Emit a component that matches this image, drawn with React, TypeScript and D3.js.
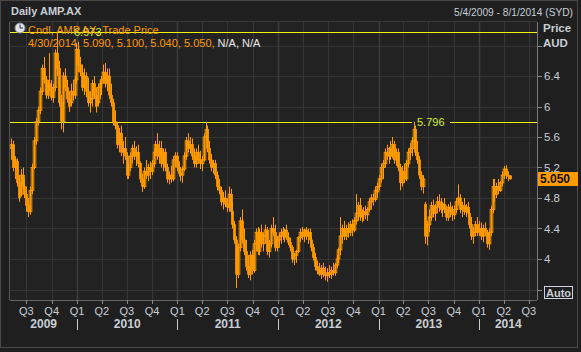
import React from 'react';
import * as d3 from 'd3';

// weekly candles, week of 4 May 2009 onwards
const opens = [
  5.45, 5.50, 5.20, 5.28, 5.00, 4.85, 5.10, 4.95, 4.85, 4.70,
  4.62, 4.90, 5.20, 5.55, 5.80, 5.95, 6.20, 6.50, 6.35, 6.15,
  6.30, 6.25, 6.12, 6.25, 6.70, 6.50, 6.05, 5.80, 6.40, 6.25,
  6.10, 6.05, 6.20, 6.15, 6.35, 6.75, 6.55, 6.45, 6.25, 6.40,
  6.20, 6.05, 6.10, 6.30, 6.15, 6.05, 6.25, 6.30, 6.35, 6.45,
  6.30, 6.40, 6.15, 6.05, 5.80, 5.75, 5.50, 5.65, 5.40, 5.45,
  5.35, 5.10, 5.20, 5.35, 5.45, 5.35, 5.40, 5.25, 5.05, 4.95,
  5.15, 5.10, 5.20, 5.15, 5.25, 5.40, 5.50, 5.35, 5.45, 5.25,
  5.40, 5.20, 5.05, 5.10, 5.05, 5.30, 5.35, 5.20, 5.12, 5.10,
  5.18, 5.35, 5.55, 5.45, 5.50, 5.35, 5.25, 5.40, 5.30, 5.25,
  5.30, 5.60, 5.70, 5.45, 5.30, 5.20, 5.25, 5.10, 4.95, 4.90,
  4.75, 4.80, 4.72, 4.68, 4.85, 4.62, 4.45, 4.25, 3.80, 4.15,
  4.50, 4.25, 4.10, 3.90, 3.80, 4.05, 3.85, 4.20, 4.35, 4.10,
  4.35, 4.20, 4.30, 4.38, 4.10, 4.20, 4.40, 4.35, 4.15, 4.25,
  4.30, 4.35, 4.30, 4.38, 4.28, 4.22, 4.15, 4.00, 4.05, 4.10,
  4.28, 4.35, 4.30, 4.38, 4.30, 4.35, 4.25, 4.15, 4.02, 3.90,
  3.85, 3.80, 3.88, 3.80, 3.78, 3.82, 3.80, 3.85, 3.82, 3.92,
  4.00, 4.12, 4.30, 4.40, 4.30, 4.40, 4.35, 4.45, 4.38, 4.50,
  4.60, 4.70, 4.55, 4.60, 4.62, 4.58, 4.65, 4.75, 4.80, 4.78,
  4.88, 4.95, 5.05, 5.20, 5.25, 5.40, 5.35, 5.45, 5.35, 5.50,
  5.30, 5.40, 5.20, 5.00, 5.15, 5.05, 5.25, 5.40, 5.45, 5.55,
  5.70, 5.40, 5.30, 5.10, 4.95, 4.72, 4.30, 4.45, 4.55, 4.70,
  4.60, 4.68, 4.75, 4.70, 4.65, 4.72, 4.65, 4.55, 4.68, 4.62,
  4.58, 4.65, 4.75, 4.80, 4.65, 4.70, 4.62, 4.68, 4.60, 4.45,
  4.30, 4.35, 4.45, 4.35, 4.40, 4.30, 4.40, 4.35, 4.20, 4.35,
  4.65, 4.95, 4.85, 4.95, 4.90, 5.00, 5.10, 5.18, 5.10, 5.09,
];
const highs = [
  5.58, 5.55, 5.35, 5.32, 5.10, 5.18, 5.20, 5.05, 4.95, 4.80,
  4.95, 5.25, 5.60, 5.85, 6.00, 6.25, 6.55, 6.65, 6.40, 6.35,
  6.70, 6.35, 6.30, 6.75, 6.97, 6.60, 6.15, 6.45, 6.50, 6.35,
  6.20, 6.30, 6.35, 6.40, 6.83, 6.85, 6.65, 6.55, 6.50, 6.45,
  6.38, 6.20, 6.35, 6.40, 6.25, 6.30, 6.35, 6.40, 6.55, 6.57,
  6.50, 6.50, 6.30, 6.10, 5.95, 5.80, 5.72, 5.75, 5.55, 5.60,
  5.40, 5.25, 5.40, 5.50, 5.55, 5.48, 5.50, 5.28, 5.12, 5.20,
  5.30, 5.25, 5.28, 5.30, 5.45, 5.55, 5.65, 5.55, 5.55, 5.45,
  5.45, 5.25, 5.15, 5.22, 5.35, 5.40, 5.40, 5.28, 5.20, 5.22,
  5.40, 5.60, 5.65, 5.60, 5.58, 5.45, 5.45, 5.50, 5.42, 5.35,
  5.65, 5.80, 5.75, 5.55, 5.38, 5.30, 5.30, 5.15, 5.05, 4.95,
  4.88, 4.90, 4.80, 4.95, 4.92, 4.75, 4.50, 4.30, 4.20, 4.55,
  4.65, 4.40, 4.25, 4.05, 4.10, 4.12, 4.25, 4.40, 4.42, 4.40,
  4.45, 4.35, 4.45, 4.42, 4.25, 4.45, 4.55, 4.45, 4.30, 4.35,
  4.40, 4.42, 4.40, 4.45, 4.35, 4.28, 4.18, 4.08, 4.12, 4.30,
  4.40, 4.42, 4.40, 4.42, 4.40, 4.40, 4.30, 4.20, 4.08, 3.98,
  3.95, 3.92, 3.95, 3.90, 3.88, 3.92, 3.90, 3.95, 3.95, 4.05,
  4.15, 4.55, 4.45, 4.50, 4.45, 4.48, 4.50, 4.52, 4.55, 4.85,
  4.75, 4.80, 4.65, 4.68, 4.70, 4.68, 4.80, 4.85, 4.86, 4.95,
  5.00, 5.10, 5.25, 5.30, 5.45, 5.50, 5.47, 5.55, 5.60, 5.55,
  5.45, 5.45, 5.25, 5.22, 5.25, 5.30, 5.45, 5.52, 5.60, 5.80,
  5.75, 5.55, 5.35, 5.15, 5.10, 4.75, 4.50, 4.65, 4.75, 4.78,
  4.72, 4.82, 4.85, 4.80, 4.75, 4.80, 4.70, 4.72, 4.75, 4.70,
  4.70, 4.80, 4.98, 4.85, 4.75, 4.80, 4.72, 4.75, 4.65, 4.55,
  4.42, 4.50, 4.55, 4.50, 4.48, 4.45, 4.48, 4.38, 4.40, 4.70,
  5.05, 5.05, 5.00, 5.05, 5.02, 5.15, 5.22, 5.23, 5.15, 5.10,
];
const lows = [
  5.30, 5.15, 5.05, 4.95, 4.75, 4.82, 4.90, 4.80, 4.62, 4.55,
  4.58, 4.85, 5.18, 5.50, 5.75, 5.90, 6.15, 6.30, 6.10, 6.10,
  6.20, 6.08, 6.05, 6.20, 6.40, 6.00, 5.70, 5.66, 6.20, 6.05,
  5.93, 6.00, 6.08, 6.10, 6.30, 6.45, 6.40, 6.20, 6.15, 6.12,
  6.00, 5.92, 6.00, 6.10, 5.92, 6.00, 6.10, 6.15, 6.30, 6.25,
  6.20, 6.10, 6.00, 5.75, 5.70, 5.45, 5.40, 5.35, 5.25, 5.30,
  5.05, 5.05, 5.15, 5.25, 5.30, 5.22, 5.20, 5.00, 4.88, 4.92,
  5.05, 5.02, 5.05, 5.10, 5.20, 5.35, 5.30, 5.25, 5.20, 5.15,
  5.15, 5.00, 4.98, 5.00, 5.02, 5.20, 5.15, 5.08, 5.02, 5.00,
  5.15, 5.30, 5.40, 5.38, 5.30, 5.20, 5.20, 5.25, 5.18, 5.15,
  5.28, 5.55, 5.40, 5.25, 5.15, 5.12, 5.05, 4.90, 4.85, 4.70,
  4.65, 4.68, 4.62, 4.62, 4.58, 4.40, 4.20, 3.62, 3.75, 4.10,
  4.20, 4.05, 3.85, 3.75, 3.72, 3.80, 3.82, 4.10, 4.05, 4.05,
  4.15, 4.10, 4.20, 4.05, 4.02, 4.15, 4.30, 4.10, 4.10, 4.15,
  4.20, 4.25, 4.22, 4.25, 4.18, 4.10, 3.95, 3.92, 3.95, 4.08,
  4.22, 4.25, 4.22, 4.25, 4.20, 4.20, 4.10, 3.98, 3.85, 3.80,
  3.78, 3.74, 3.76, 3.72, 3.70, 3.75, 3.74, 3.78, 3.78, 3.88,
  3.95, 4.05, 4.20, 4.25, 4.25, 4.28, 4.30, 4.30, 4.35, 4.45,
  4.50, 4.50, 4.48, 4.50, 4.52, 4.50, 4.62, 4.65, 4.70, 4.75,
  4.80, 4.90, 5.00, 5.05, 5.20, 5.30, 5.25, 5.30, 5.32, 5.25,
  5.22, 5.15, 4.90, 4.95, 5.00, 5.02, 5.20, 5.30, 5.35, 5.45,
  5.35, 5.25, 5.05, 4.90, 4.86, 4.20, 4.18, 4.35, 4.50, 4.55,
  4.50, 4.60, 4.62, 4.60, 4.55, 4.60, 4.50, 4.50, 4.55, 4.50,
  4.52, 4.60, 4.70, 4.60, 4.55, 4.58, 4.55, 4.55, 4.40, 4.25,
  4.20, 4.30, 4.30, 4.30, 4.25, 4.22, 4.30, 4.15, 4.12, 4.30,
  4.60, 4.75, 4.80, 4.85, 4.88, 4.95, 5.05, 5.05, 5.02, 5.04,
];
const closes = [
  5.50, 5.20, 5.30, 5.00, 4.80, 5.10, 4.95, 4.85, 4.70, 4.62,
  4.90, 5.20, 5.55, 5.80, 5.95, 6.20, 6.50, 6.35, 6.15, 6.30,
  6.25, 6.12, 6.25, 6.70, 6.50, 6.05, 5.80, 6.40, 6.25, 6.10,
  6.00, 6.20, 6.15, 6.35, 6.75, 6.55, 6.45, 6.25, 6.40, 6.20,
  6.05, 6.10, 6.30, 6.15, 6.00, 6.25, 6.30, 6.35, 6.45, 6.30,
  6.40, 6.15, 6.05, 5.80, 5.75, 5.50, 5.65, 5.40, 5.45, 5.35,
  5.10, 5.20, 5.35, 5.45, 5.35, 5.40, 5.25, 5.05, 4.95, 5.15,
  5.10, 5.20, 5.15, 5.25, 5.40, 5.50, 5.35, 5.45, 5.25, 5.40,
  5.20, 5.05, 5.10, 5.05, 5.30, 5.35, 5.20, 5.12, 5.10, 5.18,
  5.35, 5.55, 5.45, 5.50, 5.35, 5.25, 5.40, 5.30, 5.25, 5.30,
  5.60, 5.70, 5.45, 5.30, 5.20, 5.25, 5.10, 4.95, 4.90, 4.75,
  4.80, 4.72, 4.68, 4.85, 4.62, 4.45, 4.25, 3.80, 4.15, 4.50,
  4.25, 4.10, 3.90, 3.80, 4.05, 3.85, 4.20, 4.35, 4.10, 4.35,
  4.20, 4.30, 4.38, 4.10, 4.20, 4.40, 4.35, 4.15, 4.25, 4.30,
  4.35, 4.30, 4.38, 4.28, 4.22, 4.15, 4.00, 4.05, 4.10, 4.28,
  4.35, 4.30, 4.38, 4.30, 4.35, 4.25, 4.15, 4.02, 3.90, 3.85,
  3.80, 3.88, 3.80, 3.78, 3.82, 3.80, 3.85, 3.82, 3.92, 4.00,
  4.12, 4.30, 4.40, 4.30, 4.40, 4.35, 4.45, 4.38, 4.50, 4.60,
  4.70, 4.55, 4.60, 4.62, 4.58, 4.65, 4.75, 4.80, 4.78, 4.90,
  4.95, 5.05, 5.20, 5.25, 5.40, 5.35, 5.45, 5.35, 5.50, 5.30,
  5.40, 5.20, 5.00, 5.15, 5.05, 5.25, 5.40, 5.45, 5.55, 5.70,
  5.40, 5.30, 5.10, 4.95, 5.05, 4.30, 4.45, 4.55, 4.70, 4.60,
  4.68, 4.75, 4.70, 4.65, 4.72, 4.65, 4.55, 4.68, 4.62, 4.58,
  4.65, 4.75, 4.80, 4.65, 4.70, 4.62, 4.68, 4.60, 4.45, 4.30,
  4.35, 4.45, 4.35, 4.40, 4.30, 4.40, 4.35, 4.20, 4.35, 4.65,
  4.95, 4.85, 4.95, 4.90, 5.00, 5.10, 5.18, 5.10, 5.08, 5.05,
];

const priceTicks = [3.6, 4, 4.4, 4.8, 5.2, 5.6, 6, 6.4, 6.8];
const labelledTicks = [4, 4.4, 4.8, 5.2, 5.6, 6, 6.4];
const quarterNames = ['Q1', 'Q2', 'Q3', 'Q4'];
const years = [2009, 2010, 2011, 2012, 2013, 2014];
const markHigh = 6.973;
const markLevel = 5.796;
const lastPrice = 5.05;

const startDate = new Date(2009, 4, 4);
const endDate = new Date(2014, 7, 1);

const ORANGE = '#ff9a00';
const TXT = '#c8ced6';
const font = '"Liberation Sans", Arial, sans-serif';

export default function App() {
  const W = 581, H = 352;
  const left = 10, right = 537, top = 22, bottom = 300;

  const x = d3.scaleTime().domain([startDate, endDate]).range([10.4, 537.4]);
  const y = d3.scaleLinear().domain([3.6, 6.8]).range([289.5, 45.5]);

  const candles = closes.map((c, i) => ({
    date: d3.timeDay.offset(startDate, i * 7 + 2),
    o: opens[i], h: highs[i], l: lows[i], c,
  }));

  const quarters = d3.timeMonth.every(3)!.range(new Date(2009, 6, 1), new Date(2014, 9, 1));

  return (
    <svg width={W} height={H} style={{ position: 'absolute', left: 0, top: 0, background: '#1e1e1e' }}>
      <defs>
        <clipPath id="plot"><rect x={left} y={top} width={right - left} height={bottom - top} /></clipPath>
      </defs>
      <rect x={0.5} y={0.5} width={577} height={347} fill="#1f1f1f" stroke="#4a4a4a" />
      <rect x={left} y={top} width={right - left} height={bottom - top} fill="#222222" />

      {/* header */}
      <text x={11} y={15} fill={TXT} fontFamily={font} fontSize={11} fontWeight="bold">Daily AMP.AX</text>
      <text x={573} y={16} fill={TXT} fontFamily={font} fontSize={10.2} textAnchor="end">5/4/2009 - 8/1/2014 (SYD)</text>

      {/* grid */}
      <g clipPath="url(#plot)">
        {priceTicks.map(t => (
          <line key={t} x1={left} x2={right} y1={Math.round(y(t)) + 0.5} y2={Math.round(y(t)) + 0.5} stroke="#353535" />
        ))}
        {quarters.map(q => (
          <line key={+q} x1={Math.round(x(q)) + 0.5} x2={Math.round(x(q)) + 0.5} y1={top} y2={bottom}
            stroke={q.getMonth() === 0 ? '#3c3c3c' : '#353535'} strokeWidth={q.getMonth() === 0 ? 1.5 : 1} />
        ))}
      </g>

      {/* frame */}
      <line x1={left - 0.5} x2={left - 0.5} y1={top} y2={bottom} stroke="#555" />
      <line x1={left} x2={right} y1={top - 0.5} y2={top - 0.5} stroke="#3a3a3a" />
      <line x1={left} x2={right} y1={bottom + 0.5} y2={bottom + 0.5} stroke="#666" />
      <line x1={right + 0.5} x2={right + 0.5} y1={top} y2={bottom} stroke="#777" />

      {/* reference lines */}
      <line x1={left} x2={right} y1={Math.round(y(markHigh)) + 0.5} y2={Math.round(y(markHigh)) + 0.5} stroke="#f2f20a" />
      <line x1={left} x2={412} y1={Math.round(y(markLevel)) + 0.5} y2={Math.round(y(markLevel)) + 0.5} stroke="#f2f20a" />
      <line x1={450} x2={right} y1={Math.round(y(markLevel)) + 0.5} y2={Math.round(y(markLevel)) + 0.5} stroke="#f2f20a" />

      {/* candles */}
      <g clipPath="url(#plot)">
        {candles.map((d, i) => {
          const cx = Math.round(x(d.date)) + 0.5;
          const up = d.c >= d.o;
          const y0 = y(Math.max(d.o, d.c));
          const y1 = y(Math.min(d.o, d.c));
          return (
            <g key={i}>
              <line x1={cx} x2={cx} y1={y(d.h)} y2={y(d.l)} stroke={ORANGE} />
              <rect x={cx - 1.3} y={y0} width={2.6} height={Math.max(1, y1 - y0)}
                fill={up ? 'none' : ORANGE} stroke={ORANGE} strokeWidth={up ? 1 : 0.4} />
            </g>
          );
        })}
      </g>

      {/* marker labels */}
      <text x={74} y={36} fill="#d6ec3c" fontFamily={font} fontSize={11}>6.973</text>
      <text x={417} y={126} fill="#d6ec3c" fontFamily={font} fontSize={11}>5.796</text>

      {/* legend */}
      <circle cx={20} cy={28} r={5} fill="#dfe4ea" stroke="#8a9099" />
      <line x1={20} y1={28} x2={20} y2={24.5} stroke="#333" strokeWidth={1} />
      <line x1={20} y1={28} x2={23} y2={28} stroke="#333" strokeWidth={1} />
      <text x={28} y={34} fill={ORANGE} fontFamily={font} fontSize={11}>Cndl, AMP.AX, Trade Price</text>
      <text x={28} y={47} fill={ORANGE} fontFamily={font} fontSize={11}>
        4/30/2014, 5.090, 5.100, 5.040, 5.050, <tspan fill="#e8e8e8">N/A, N/A</tspan>
      </text>

      {/* right axis */}
      <text x={543} y={32} fill={TXT} fontFamily={font} fontSize={11.5} fontWeight="bold">Price</text>
      <text x={543} y={47} fill={TXT} fontFamily={font} fontSize={11.5} fontWeight="bold">AUD</text>
      {priceTicks.map(t => (
        <line key={t} x1={538} x2={542} y1={Math.round(y(t)) + 0.5} y2={Math.round(y(t)) + 0.5} stroke="#8a8a8a" />
      ))}
      {labelledTicks.map(t => (
        <text key={t} x={544} y={y(t) + 4} fill={TXT} fontFamily={font} fontSize={11.5}>{d3.format('~g')(t)}</text>
      ))}
      <rect x={538} y={172} width={40} height={14} fill={ORANGE} />
      <text x={540} y={183} fill="#111" fontFamily={font} fontSize={12} fontWeight="bold">{lastPrice.toFixed(3)}</text>
      <rect x={544.5} y={286.5} width={28} height={12} fill="none" stroke="#d0d4da" />
      <text x={546} y={296.5} fill={TXT} fontFamily={font} fontSize={11} fontWeight="bold">Auto</text>

      {/* bottom axis */}
      {quarters.map(q => (
        <g key={+q}>
          <line x1={Math.round(x(q)) + 0.5} x2={Math.round(x(q)) + 0.5} y1={bottom} y2={bottom + 4} stroke="#888" />
          <text x={x(q)} y={315} textAnchor="middle" fill={TXT} fontFamily={font} fontSize={11}>
            {quarterNames[Math.floor(q.getMonth() / 3)]}
          </text>
        </g>
      ))}
      {years.map(yr => {
        const a = Math.max(+startDate, +new Date(yr, 0, 1));
        const b = Math.min(+endDate, +new Date(yr + 1, 0, 1));
        const mid = (x(new Date(a)) + x(new Date(b))) / 2;
        return (
          <g key={yr}>
            {yr > 2009 && (
              <line x1={Math.round(x(new Date(yr, 0, 1))) + 0.5} x2={Math.round(x(new Date(yr, 0, 1))) + 0.5}
                y1={319} y2={330} stroke="#c8ced6" />
            )}
            <text x={mid} y={328} textAnchor="middle" fill={TXT} fontFamily={font} fontSize={12} fontWeight="bold">{yr}</text>
          </g>
        );
      })}
    </svg>
  );
}
